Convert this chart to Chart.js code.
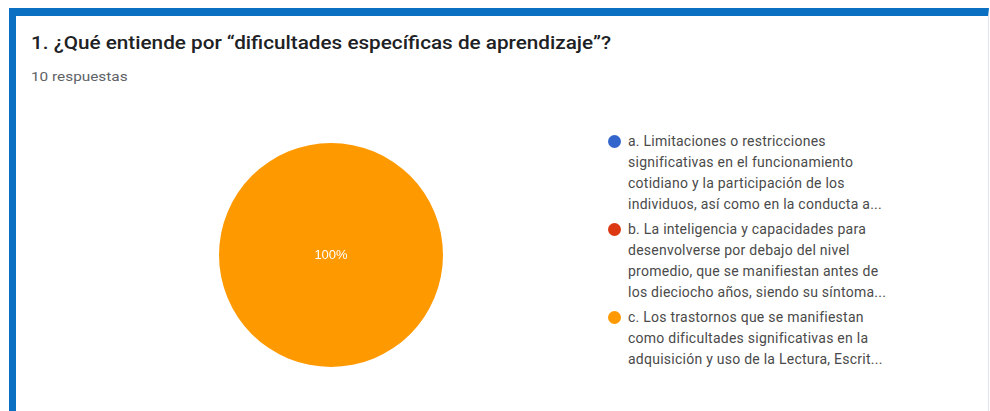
<!DOCTYPE html>
<html>
<head>
<meta charset="utf-8">
<script src="https://cdn.jsdelivr.net/npm/chart.js@4.4.0/dist/chart.umd.min.js"></script>
<style>
    html, body { margin: 0; padding: 0; background: #fff; }
    body { width: 990px; height: 411px; position: relative; overflow: hidden; font-family: Roboto, Arial, sans-serif; }
    .card {
        position: absolute; left: 9px; top: 8px; width: 972px; height: 420px;
        border-left: 7px solid #0b6fc2; border-top: 8px solid #0b6fc2;
        border-right: 1px solid #dde5ee;
    }
    .title { position: absolute; left: 31px; top: 32px; font-size: 18px; font-weight: 500; color: #202124; white-space: nowrap; transform: scaleX(1.15); transform-origin: left center; }
    .sub { position: absolute; left: 31px; top: 69px; font-size: 13px; color: #5f6368; transform: scaleX(1.18); transform-origin: left center; }
    .pie { position: absolute; left: 219px; top: 141px; width: 224px; height: 228px; }
    #legend { position: absolute; left: 607px; top: 131px; font-family: Roboto, Arial, sans-serif; font-size: 14px; letter-spacing: 0.25px; line-height: 21px; color: #4a4a4a; }
    #legend .item { position: relative; padding-left: 21px; margin-bottom: 4px; white-space: nowrap; }
    #legend .dot { position: absolute; left: 1px; top: 4px; width: 13px; height: 13px; border-radius: 50%; }
</style>
</head>
<body>
<div class="card"></div>
<div class="title">1. ¿Qué entiende por “dificultades específicas de aprendizaje”?</div>
<div class="sub">10 respuestas</div>
<div class="pie"><canvas id="pieChart"></canvas></div>
<div id="legend"></div>
<script>
const optionLabels = [
    ["a. Limitaciones o restricciones", "significativas en el funcionamiento", "cotidiano y la participación de los", "individuos, así como en la conducta a..."],
    ["b. La inteligencia y capacidades para", "desenvolverse por debajo del nivel", "promedio, que se manifiestan antes de", "los dieciocho años, siendo su síntoma..."],
    ["c. Los trastornos que se manifiestan", "como dificultades significativas en la", "adquisición y uso de la Lectura, Escrit..."]
];
const responseCounts = [0, 0, 10];
const sliceColors = ["#3366cc", "#dc3912", "#ff9900"];

const percentLabels = {
    id: "percentLabels",
    afterDatasetsDraw(chart) {
        const ctx = chart.ctx;
        const data = chart.data.datasets[0].data;
        const total = data.reduce((a, b) => a + b, 0);
        chart.getDatasetMeta(0).data.forEach((arc, i) => {
            if (!data[i]) return;
            const pos = data[i] === total ? { x: arc.x, y: arc.y } : arc.tooltipPosition();
            ctx.save();
            ctx.fillStyle = "#ffffff";
            ctx.font = "13px Arial, sans-serif";
            ctx.textAlign = "center";
            ctx.textBaseline = "middle";
            ctx.fillText(Math.round(data[i] / total * 100) + "%", pos.x, pos.y);
            ctx.restore();
        });
    }
};

const chart = new Chart(document.getElementById("pieChart"), {
    type: "pie",
    data: {
        labels: optionLabels.map(l => l.join(" ")),
        datasets: [{ data: responseCounts, backgroundColor: sliceColors, borderWidth: 0 }]
    },
    options: {
        responsive: true,
        maintainAspectRatio: false,
        animation: false,
        plugins: { legend: { display: false }, tooltip: { enabled: false } }
    },
    plugins: [percentLabels]
});

// legend built from the chart's own colours
const legend = document.getElementById("legend");
optionLabels.forEach((lines, i) => {
    const item = document.createElement("div");
    item.className = "item";
    const dot = document.createElement("span");
    dot.className = "dot";
    dot.style.background = chart.data.datasets[0].backgroundColor[i];
    item.appendChild(dot);
    lines.forEach((line, j) => {
        if (j) item.appendChild(document.createElement("br"));
        item.appendChild(document.createTextNode(line));
    });
    legend.appendChild(item);
});
</script>
</body>
</html>
